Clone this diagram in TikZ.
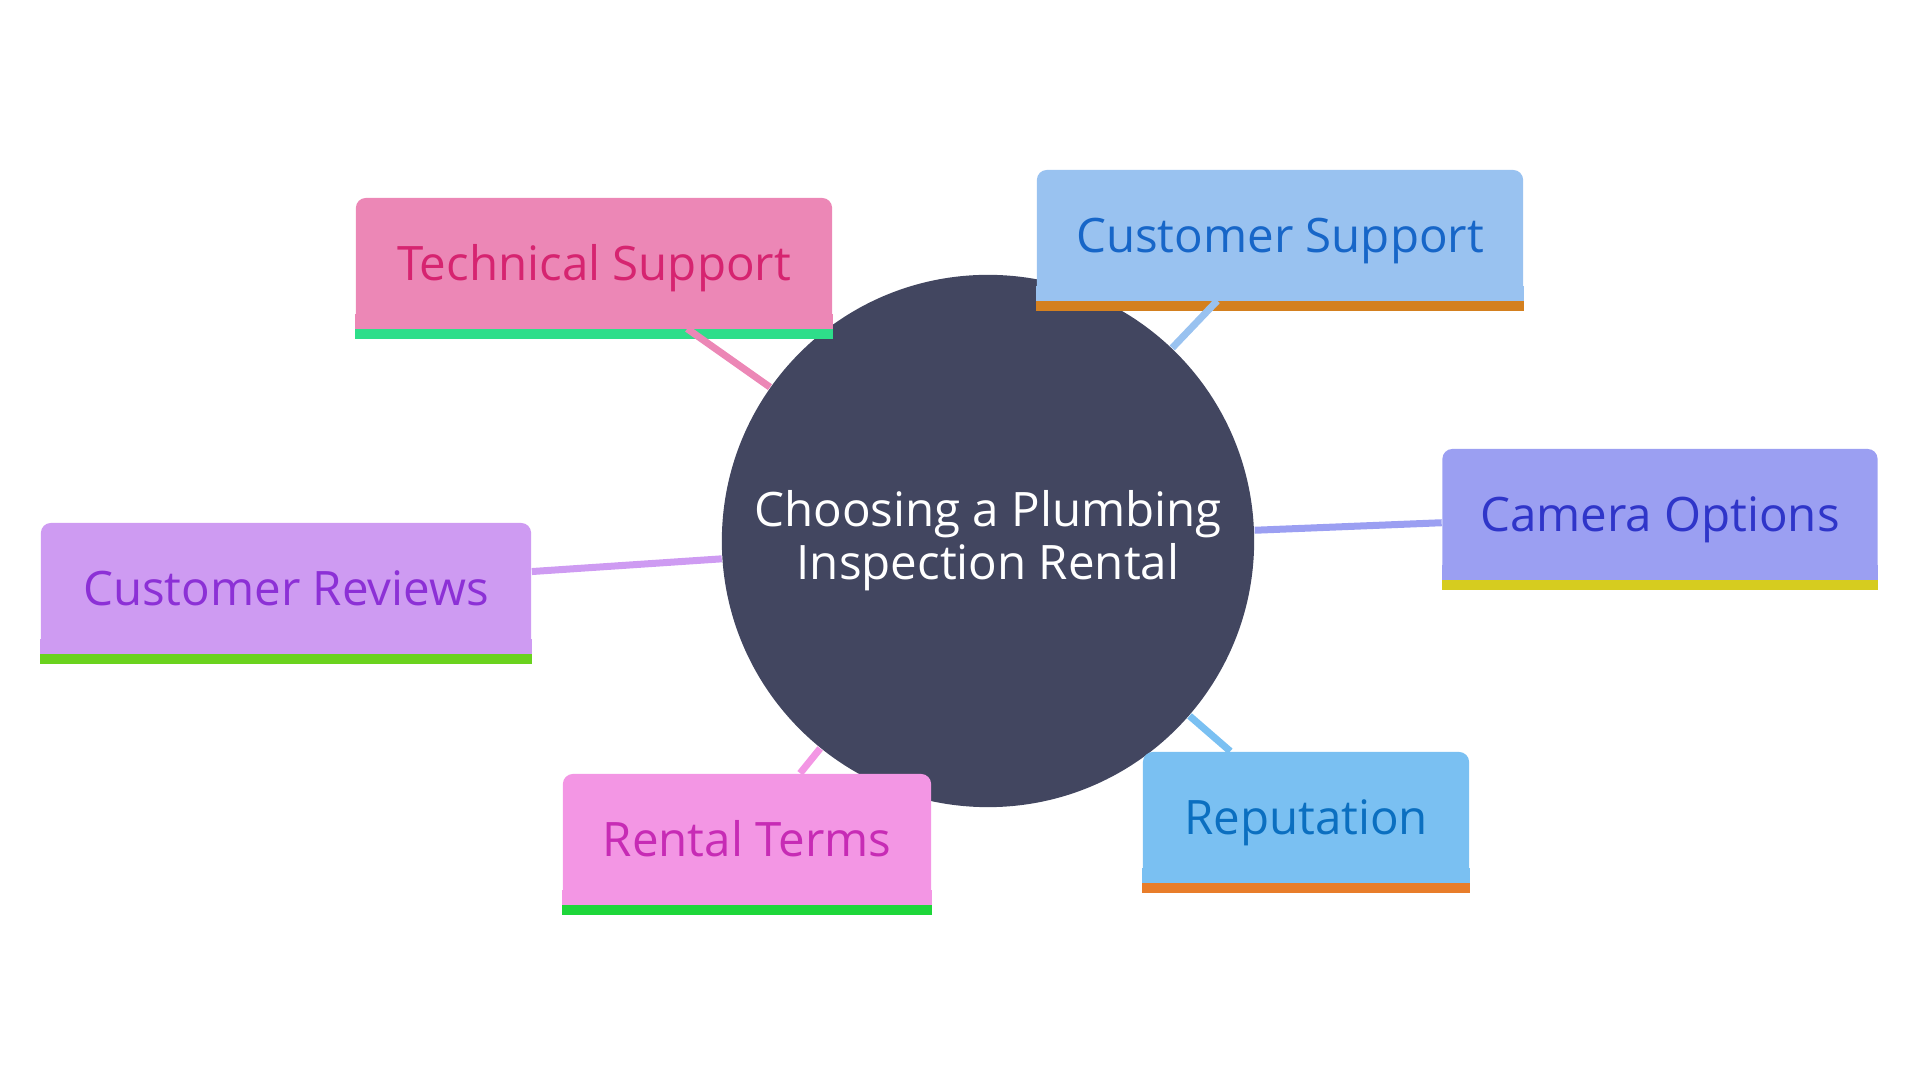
\documentclass[tikz,border=0pt]{standalone}
\usepackage{fontspec}
\setmainfont{Open Sans}
\usetikzlibrary{positioning}
\definecolor{hubfill}{HTML}{424660}
\definecolor{techfill}{HTML}{EC87B6}
\definecolor{techtext}{HTML}{D62470}
\definecolor{techbar}{HTML}{2EDE8A}
\definecolor{csfill}{HTML}{99C2F0}
\definecolor{cstext}{HTML}{1766C8}
\definecolor{csbar}{HTML}{D4801F}
\definecolor{camfill}{HTML}{9B9FF2}
\definecolor{camtext}{HTML}{2F35C9}
\definecolor{cambar}{HTML}{D6CC1F}
\definecolor{revfill}{HTML}{CE9BF2}
\definecolor{revtext}{HTML}{8C30D6}
\definecolor{revbar}{HTML}{6AD21E}
\definecolor{rentfill}{HTML}{F396E4}
\definecolor{renttext}{HTML}{C72BB5}
\definecolor{rentbar}{HTML}{1ED63A}
\definecolor{repfill}{HTML}{7AC0F2}
\definecolor{reptext}{HTML}{0B6FC0}
\definecolor{repbar}{HTML}{E87D2A}

\begin{document}
\begin{tikzpicture}[x=0.01cm,y=-0.01cm]

\tikzset{
  topic/.style={rectangle, rounded corners=0.1cm, minimum height=1.3cm,
    inner sep=0pt, text height=9.7pt, text depth=0pt,
    font=\fontsize{13.5}{16}\selectfont},
  link/.style={line width=0.07cm}
}

\useasboundingbox (0,0) rectangle (1920,1080);

\node[circle, fill=hubfill, minimum size=5.32cm, text=white, align=center,
  font=\fontsize{13.5}{15.1}\selectfont] (hub) at (988,541)
  {Choosing a Plumbing\\Inspection Rental};

% topics: name/x/y/width/colour/text
\foreach \name/\x/\y/\w/\col/\txt in {
  tech/594/263/4.76/tech/Technical Support,
  custsup/1280/235/4.86/cs/Customer Support,
  camera/1660/514/4.35/cam/Camera Options,
  reviews/286/588/4.90/rev/Customer Reviews,
  rental/747/839/3.68/rent/Rental Terms,
  reput/1306/817/3.26/rep/Reputation}{
  \node[topic, fill=\col fill, text=\col text, minimum width=\w cm] (\name) at (\x,\y) {\txt};
  \fill[\col fill] ([yshift=0.15cm]\name.south west) rectangle (\name.south east);
  \fill[\col bar] (\name.south west) rectangle ([yshift=-0.1cm]\name.south east);
}

\foreach \name/\col in {tech/tech, custsup/cs, camera/cam, reviews/rev, rental/rent, reput/rep}
  \draw[link, \col fill] (hub) -- (\name);

\end{tikzpicture}
\end{document}
